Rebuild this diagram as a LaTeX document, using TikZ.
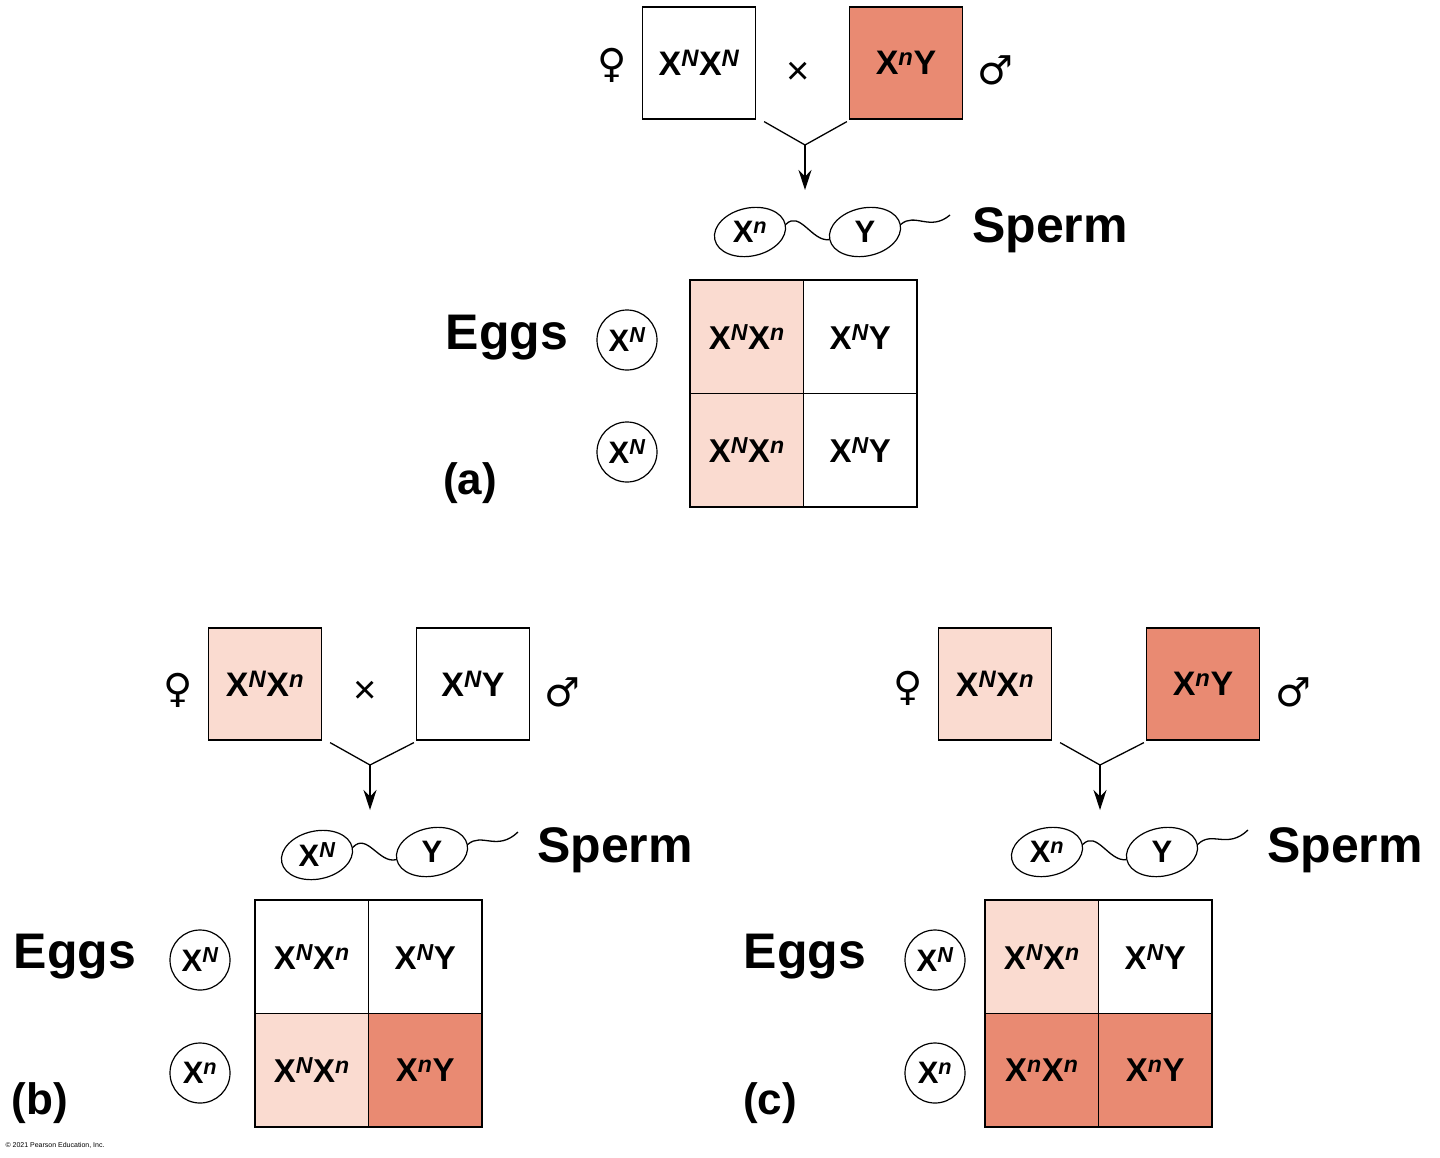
\documentclass[tikz,border=0pt]{standalone}
\usepackage{fontspec}
\setmainfont{Liberation Sans}
\newfontfamily\symf{DejaVu Sans}
\usetikzlibrary{shapes.geometric,arrows.meta}
\definecolor{dk}{HTML}{E98A72}
\definecolor{lt}{HTML}{FADBD0}
\newcommand\gx[1]{X\textsuperscript{\itshape #1}}
\begin{document}
\begin{tikzpicture}[x=1pt,y=-1pt,
  parent/.style={draw,line width=1.2pt,minimum width=113pt,minimum height=112pt,font=\bfseries\fontsize{34}{40}\selectfont},
  cell/.style={draw,line width=1.2pt,minimum width=113.5pt,minimum height=113.5pt,font=\bfseries\fontsize{33}{38}\selectfont},
  egg/.style={draw,circle,line width=1.2pt,minimum size=60pt,inner sep=0pt,font=\bfseries\fontsize{31}{32}\selectfont},
  sp/.style={draw,ellipse,line width=1.2pt,minimum width=72pt,minimum height=48pt,inner sep=0pt,font=\bfseries\fontsize{31}{32}\selectfont},
  big/.style={font=\bfseries\fontsize{50}{56}\selectfont},
  sym/.style={font=\symf\fontsize{40}{44}\selectfont},
  tms/.style={font=\fontsize{40}{42}\selectfont},
  ln/.style={line width=1.3pt},
  arr/.style={line width=1.3pt,-{Stealth[length=20pt,width=13pt]}}]
\useasboundingbox (0,0) rectangle (1440,1157);
% ---------- (a)
\node[sym] (af) at (612,65) {♀};
\node[parent] (ap1) at (699,63) {\gx{N}\gx{N}};
\node[tms] (ax) at (798,73) {×};
\node[parent,fill=dk] (ap2) at (906,63) {\gx{n}Y};
\node[sym] (am) at (995,70) {♂};
\coordinate (aj) at (805,145);
\draw[ln] (ap1.south east)++(8,2) -- (aj);
\draw[ln] (ap2.south west)++(-2,2) -- (aj);
\coordinate (aa) at (805,190);
\draw[arr] (aj) -- (aa);
\node[sp,rotate=12] (as1) at (750,232) {};
\node[sp,draw=none] (as1t) at (750,232) {\gx{n}};
\node[sp,rotate=12] (as2) at (865,232) {};
\node[sp,draw=none] (as2t) at (865,232) {Y};
\draw[ln] (as1.east) .. controls (800,210) and (812,242) .. (as2.west);
\coordinate (at) at (950,215);
\draw[ln] (as2.east) .. controls (915,212) and (930,232) .. (at);
\node[big] (asp) at (1050,230) {Sperm};
\node[cell,fill=lt] (a11) at (746.75,336.75) {\gx{N}\gx{n}};
\node[cell] (a12) at (860.25,336.75) {\gx{N}Y};
\node[cell,fill=lt] (a21) at (746.75,450.25) {\gx{N}\gx{n}};
\node[cell] (a22) at (860.25,450.25) {\gx{N}Y};
\node[big] (aeg) at (507,338) {Eggs};
\node[egg] (ae1) at (627,340) {\gx{N}};
\node[egg] (ae2) at (627,452) {\gx{N}};
\node[big,font=\bfseries\fontsize{44}{50}\selectfont] (al) at (470,483) {(a)};
% ---------- (b)
\node[sym] (bf) at (178,690) {♀};
\node[parent,fill=lt] (bp1) at (265,684) {\gx{N}\gx{n}};
\node[tms] (bx) at (365,692) {×};
\node[parent] (bp2) at (473,684) {\gx{N}Y};
\node[sym] (bm) at (562,692) {♂};
\coordinate (bj) at (370,765);
\draw[ln] (bp1.south east)++(8,2) -- (bj);
\draw[ln] (bp2.south west)++(-2,2) -- (bj);
\coordinate (ba) at (370,810);
\draw[arr] (bj) -- (ba);
\node[sp,rotate=12] (bs1) at (317,855) {};
\node[sp,draw=none] (bs1t) at (317,855) {\gx{N}};
\node[sp,rotate=12] (bs2) at (432,852) {};
\node[sp,draw=none] (bs2t) at (432,852) {Y};
\draw[ln] (bs1.east) .. controls (367,832) and (379,864) .. (bs2.west);
\coordinate (bt) at (518,832);
\draw[ln] (bs2.east) .. controls (482,832) and (497,852) .. (bt);
\node[big] (bsp) at (615,850) {Sperm};
\node[cell] (b11) at (311.75,956.75) {\gx{N}\gx{n}};
\node[cell] (b12) at (425.25,956.75) {\gx{N}Y};
\node[cell,fill=lt] (b21) at (311.75,1070.25) {\gx{N}\gx{n}};
\node[cell,fill=dk] (b22) at (425.25,1070.25) {\gx{n}Y};
\node[big] (beg) at (75,957) {Eggs};
\node[egg] (be1) at (200,960) {\gx{N}};
\node[egg] (be2) at (200,1073) {\gx{n}};
\node[big,font=\bfseries\fontsize{44}{50}\selectfont] (bl) at (40,1103) {(b)};
% ---------- (c)
\node[sym] (cf) at (908,688) {♀};
\node[parent,fill=lt] (cp1) at (995,684) {\gx{N}\gx{n}};
\node[parent,fill=dk] (cp2) at (1203,684) {\gx{n}Y};
\node[sym] (cm) at (1293,692) {♂};
\coordinate (cj) at (1100,765);
\draw[ln] (cp1.south east)++(8,2) -- (cj);
\draw[ln] (cp2.south west)++(-2,2) -- (cj);
\coordinate (ca) at (1100,810);
\draw[arr] (cj) -- (ca);
\node[sp,rotate=12] (cs1) at (1047,852) {};
\node[sp,draw=none] (cs1t) at (1047,852) {\gx{n}};
\node[sp,rotate=12] (cs2) at (1162,852) {};
\node[sp,draw=none] (cs2t) at (1162,852) {Y};
\draw[ln] (cs1.east) .. controls (1097,830) and (1109,862) .. (cs2.west);
\coordinate (ct) at (1248,830);
\draw[ln] (cs2.east) .. controls (1212,830) and (1227,850) .. (ct);
\node[big] (csp) at (1345,850) {Sperm};
\node[cell,fill=lt] (c11) at (1041.75,956.75) {\gx{N}\gx{n}};
\node[cell] (c12) at (1155.25,956.75) {\gx{N}Y};
\node[cell,fill=dk] (c21) at (1041.75,1070.25) {\gx{n}\gx{n}};
\node[cell,fill=dk] (c22) at (1155.25,1070.25) {\gx{n}Y};
\node[big] (ceg) at (805,957) {Eggs};
\node[egg] (ce1) at (935,960) {\gx{N}};
\node[egg] (ce2) at (935,1073) {\gx{n}};
\node[big,font=\bfseries\fontsize{44}{50}\selectfont] (cl) at (770,1103) {(c)};
\node[anchor=west,font=\fontsize{7}{8}\selectfont] (copy) at (2,1145) {© 2021 Pearson Education, Inc.};
\end{tikzpicture}
\end{document}
